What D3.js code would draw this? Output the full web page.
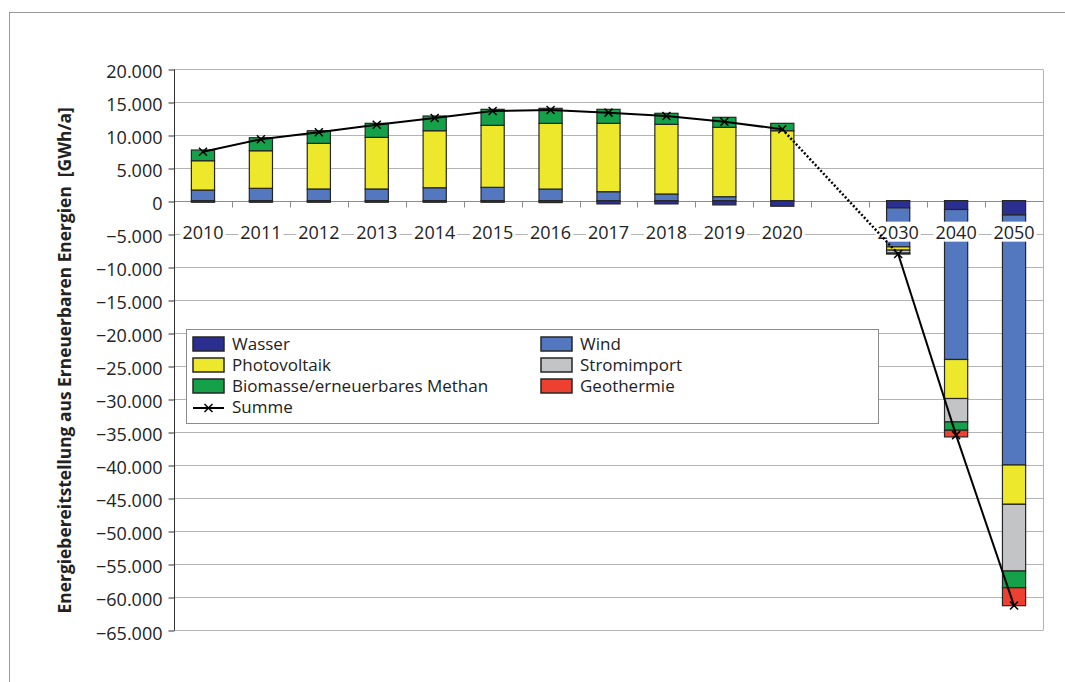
<!DOCTYPE html>
<html>
<head>
<meta charset="utf-8">
<script src="https://cdn.jsdelivr.net/npm/d3@7"></script>
<style>
  body { margin: 0; background: #fff; }
  svg { display: block; font-family: "Open Sans", sans-serif; }
</style>
</head>
<body>
<div id="chart"></div>
<script>
// categories (the empty slot is the gap between 2020 and 2030)
const categories = ['2010', '2011', '2012', '2013', '2014', '2015', '2016', '2017', '2018', '2019', '2020', '', '2030', '2040', '2050'];

// GWh/a
const wasser      = [-250, -250, -250, -250, -250, -250, -300, -500, -500, -650, -850, null, -1100, -1350, -2180];
const wind        = [1600, 1860, 1760, 1760, 1950, 2010, 1750, 1350, 1000, 590, 0, null, -5900, -22700, -37840];
const pv          = [4440, 5690, 6910, 7820, 8630, 9390, 9950, 10350, 10550, 10510, 10580, null, -500, -5910, -5950];
const stromimport = [0, 0, 0, 0, 0, 0, 0, 0, 0, 0, 0, null, -450, -3540, -10100];
const biomasse    = [1620, 1970, 1910, 2120, 2230, 2420, 2270, 2120, 1670, 1510, 1120, null, -80, -1260, -2530];
const geothermie  = [0, 0, 0, 0, 0, 0, 0, 0, 0, 0, 0, null, -50, -1010, -2720];
const summe       = [7400, 9300, 10350, 11480, 12520, 13560, 13720, 13320, 12800, 11950, 10800, null, -8080, -35500, -61300];

const yTicks = d3.range(-65000, 20001, 5000);

const series = [
  { key: 'Wasser', values: wasser, color: '#2b2f8f' },
  { key: 'Wind', values: wind, color: '#5478c0' },
  { key: 'Photovoltaik', values: pv, color: '#eee82c' },
  { key: 'Stromimport', values: stromimport, color: '#c2c4c6' },
  { key: 'Biomasse/erneuerbares Methan', values: biomasse, color: '#15a04a' },
  { key: 'Geothermie', values: geothermie, color: '#ee4030' },
];
// legend order: two columns, as in the picture
const legendOrder = ['Wasser', 'Wind', 'Photovoltaik', 'Stromimport', 'Biomasse/erneuerbares Methan', 'Geothermie'];

const W = 1065, H = 682;
const plot = { left: 174, right: 1043, top: 68.5, bottom: 630 };

const locale = d3.formatLocale({ decimal: ',', thousands: '.', grouping: [3], currency: ['', ' €'], minus: '\u2212' });
const fmt = locale.format(',d');

const svg = d3.select('#chart').append('svg')
  .attr('width', W)
  .attr('height', H);

// outer frame
svg.append('rect')
  .attr('x', 9.5).attr('y', 12.5)
  .attr('width', 1100).attr('height', 700)
  .attr('fill', 'none')
  .attr('stroke', '#9a9a9a');

const x = d3.scaleBand()
  .domain(categories)
  .range([plot.left, plot.right])
  .paddingInner(0.6)
  .paddingOuter(0.3);

const y = d3.scaleLinear()
  .domain([-65000, 20000])
  .range([plot.bottom, plot.top]);

const crisp = (v) => Math.round(v) + 0.5;

// gridlines
svg.append('g')
  .selectAll('line')
  .data(yTicks)
  .enter().append('line')
  .attr('x1', plot.left)
  .attr('x2', plot.right)
  .attr('y1', (d) => crisp(y(d)))
  .attr('y2', (d) => crisp(y(d)))
  .attr('stroke', (d) => (d === 0 ? '#8c8c8c' : '#b4b4b4'))
  .attr('stroke-width', 1);

// right border of plot area
svg.append('line')
  .attr('x1', crisp(plot.right)).attr('x2', crisp(plot.right))
  .attr('y1', crisp(y(20000))).attr('y2', crisp(y(-65000)))
  .attr('stroke', '#b4b4b4');

// category boundary ticks on the zero line
const step = x.step();
svg.append('g')
  .selectAll('line')
  .data(categories.slice(1))
  .enter().append('line')
  .attr('x1', (d) => crisp(x(d) - (step - x.bandwidth()) / 2))
  .attr('x2', (d) => crisp(x(d) - (step - x.bandwidth()) / 2))
  .attr('y1', crisp(y(0)))
  .attr('y2', crisp(y(0)) + 6)
  .attr('stroke', '#8c8c8c');

// y axis
const yAxis = svg.append('g')
  .attr('transform', `translate(${crisp(plot.left)},0)`)
  .call(d3.axisLeft(y).tickValues(yTicks).tickSize(6).tickPadding(6).tickFormat(fmt));
yAxis.select('.domain').attr('stroke', '#333').attr('d', `M-0,${crisp(y(20000))}V${crisp(y(-65000))}`);
yAxis.selectAll('.tick line').attr('stroke', '#333').attr('transform', (d) => `translate(0,${crisp(y(d)) - y(d)})`);
yAxis.selectAll('.tick text')
  .attr('dy', '0.5em')
  .attr('fill', '#222')
  .style('font-size', '18px')
  .style('font-family', '"Open Sans", sans-serif');

// axis title
svg.append('text')
  .attr('transform', `translate(71,${(plot.top + plot.bottom) / 2 + 11}) rotate(-90)`)
  .attr('text-anchor', 'middle')
  .style('font-size', '17.4px')
  .style('font-weight', 'bold')
  .style('white-space', 'pre')
  .attr('fill', '#222')
  .text('Energiebereitstellung aus Erneuerbaren Energien  [GWh/a]');

// stacked bars
const table = categories.map((c, i) => {
  const row = { cat: c };
  series.forEach((s) => { row[s.key] = s.values[i] == null ? 0 : s.values[i]; });
  return row;
});
const stacked = d3.stack()
  .keys(series.map((s) => s.key))
  .offset(d3.stackOffsetDiverging)(table);

const colorOf = d3.scaleOrdinal().domain(series.map((s) => s.key)).range(series.map((s) => s.color));

svg.append('g')
  .selectAll('g')
  .data(stacked)
  .enter().append('g')
  .attr('fill', (d) => colorOf(d.key))
  .selectAll('rect')
  .data((d) => d.filter((p) => p.data.cat !== '' && p[1] - p[0] !== 0))
  .enter().append('rect')
  .attr('x', (d) => x(d.data.cat))
  .attr('width', x.bandwidth())
  .attr('y', (d) => y(d[1]))
  .attr('height', (d) => y(d[0]) - y(d[1]))
  .attr('stroke', '#262626')
  .attr('stroke-width', 1.2);

// category labels with white boxes over the -5.000 gridline
const labels = svg.append('g')
  .selectAll('g')
  .data(categories.filter((c) => c !== ''))
  .enter().append('g')
  .attr('transform', (d) => `translate(${x(d) + x.bandwidth() / 2},${y(-5000) + 5})`);
labels.append('text')
  .attr('text-anchor', 'middle')
  .style('font-size', '18px')
  .attr('fill', '#222')
  .text((d) => d);
labels.insert('rect', 'text')
  .each(function () {
    const b = this.parentNode.querySelector('text').getBBox();
    d3.select(this)
      .attr('x', b.x - 2)
      .attr('y', b.y + 2)
      .attr('width', b.width + 4)
      .attr('height', b.height - 4)
      .attr('fill', '#fff');
  });

// legend
const legend = svg.append('g').attr('transform', 'translate(186,329)');
legend.append('rect')
  .attr('x', 0.5).attr('y', 0.5)
  .attr('width', 692).attr('height', 94)
  .attr('fill', '#fff')
  .attr('stroke', '#8c8c8c');

const legendItems = legend.selectAll('.item')
  .data(legendOrder)
  .enter().append('g')
  .attr('class', 'item')
  .attr('transform', (d, i) => `translate(${i % 2 === 0 ? 7 : 355},${8 + Math.floor(i / 2) * 21})`);
legendItems.append('rect')
  .attr('width', 31).attr('height', 14)
  .attr('fill', (d) => colorOf(d))
  .attr('stroke', '#262626')
  .attr('stroke-width', 1.5);
legendItems.append('text')
  .attr('x', 39).attr('y', 13)
  .style('font-size', '17px')
  .attr('fill', '#222')
  .text((d) => d);

const summeItem = legend.append('g').attr('transform', `translate(7,${8 + 3 * 21})`);
summeItem.append('line')
  .attr('x1', 0).attr('x2', 31).attr('y1', 8).attr('y2', 8)
  .attr('stroke', '#000').attr('stroke-width', 2);
summeItem.append('path')
  .attr('d', 'M-4,-4L4,4M-4,4L4,-4')
  .attr('transform', 'translate(15.5,8)')
  .attr('stroke', '#000').attr('stroke-width', 1.5);
summeItem.append('text')
  .attr('x', 39).attr('y', 13)
  .style('font-size', '17px')
  .attr('fill', '#222')
  .text('Summe');

// Summe line: solid where years are adjacent, dotted across the gap
const pts = categories
  .map((c, i) => ({ cat: c, i, v: summe[i] }))
  .filter((d) => d.v != null);
const cx = (d) => x(d.cat) + x.bandwidth() / 2;
const segs = d3.pairs(pts);
svg.append('g')
  .selectAll('line')
  .data(segs)
  .enter().append('line')
  .attr('x1', (d) => cx(d[0]))
  .attr('y1', (d) => y(d[0].v))
  .attr('x2', (d) => cx(d[1]))
  .attr('y2', (d) => y(d[1].v))
  .attr('stroke', '#000')
  .attr('stroke-width', (d) => (d[1].i - d[0].i > 1 ? 2.5 : 2))
  .attr('stroke-dasharray', (d) => (d[1].i - d[0].i > 1 ? '2,2' : null));

svg.append('g')
  .selectAll('path')
  .data(pts)
  .enter().append('path')
  .attr('d', 'M-4,-4L4,4M-4,4L4,-4')
  .attr('transform', (d) => `translate(${cx(d)},${y(d.v)})`)
  .attr('stroke', '#000')
  .attr('stroke-width', 1.5);
</script>
</body>
</html>
